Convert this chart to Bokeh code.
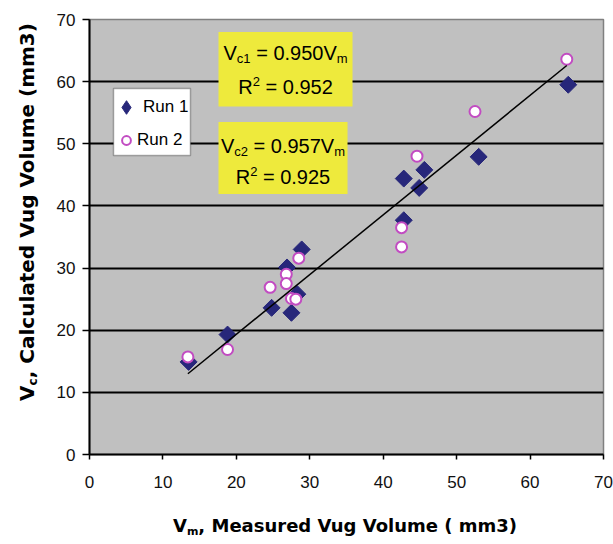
import math
from bokeh.plotting import figure
from bokeh.layouts import column, row
from bokeh.models import (Legend, LegendItem, BoxAnnotation, Label, FixedTicker, Div)
from bokeh.embed import file_html
from bokeh.resources import INLINE

# ---------------- data ----------------
run1_x = [65.2, 53.0, 45.6, 42.8, 44.9, 42.8, 28.9, 26.9, 28.3, 24.8, 27.5, 18.8, 13.5]
run1_y = [59.5, 47.9, 45.8, 44.4, 42.9, 37.7, 33.0, 30.1, 25.8, 23.6, 22.8, 19.3, 14.9]
run2_x = [65.0, 52.5, 44.6, 42.5, 42.5, 28.5, 26.8, 24.6, 26.8, 27.5, 28.1, 18.8, 13.4]
run2_y = [63.6, 55.2, 48.0, 36.5, 33.4, 31.6, 29.0, 26.9, 27.5, 25.1, 25.0, 16.9, 15.7]
trend_x = [13.4, 65.0]
trend_y = [13.0, 62.6]
series_names = ["Run 1", "Run 2"]
eq1_coef, eq1_r2 = "0.950", "0.952"
eq2_coef, eq2_r2 = "0.957", "0.925"
axis_ticks = [0, 10, 20, 30, 40, 50, 60, 70]

# ---------------- font metrics for composing rich text ----------------
ARIAL = {'V': .667, 'c': .5, '1': .556, '2': .556, ' ': .278, '=': .584, '0': .556,
         '.': .278, '9': .556, '5': .556, '7': .556, 'm': .833, 'R': .722}


def tw(text, size):
    return sum(ARIAL.get(ch, 0.6) for ch in text) * size


YDIV_W = 44
P_W, P_H = 613 - YDIV_W, 500
XDIV_H = 544 - P_H

p = figure(width=P_W, height=P_H, x_range=(0, 70), y_range=(0, 70),
           output_backend="svg", toolbar_location=None,
           min_border_left=89 - YDIV_W, min_border_right=10,
           min_border_top=19, min_border_bottom=P_H - 454)

p.background_fill_color = "#c0c0c0"
p.border_fill_color = "white"
p.outline_line_color = "#808080"
p.outline_line_width = 1.5

for ax in (p.xaxis[0], p.yaxis[0]):
    ax.ticker = FixedTicker(ticks=axis_ticks)
    ax.axis_line_color = "black"
    ax.axis_line_width = 2
    ax.major_tick_line_color = "black"
    ax.major_tick_line_width = 1.5
    ax.major_tick_in = 0
    ax.minor_tick_line_color = None
    ax.major_label_text_font = "Liberation Sans"
    ax.major_label_text_font_size = "17px"
    ax.major_label_text_color = "#111111"
p.yaxis.major_tick_out = 7
p.yaxis.major_label_standoff = 7
p.xaxis.major_tick_out = 5
p.xaxis.major_label_standoff = 16

p.xgrid.visible = False
p.ygrid.ticker = FixedTicker(ticks=axis_ticks[1:-1])
p.ygrid.grid_line_color = "black"
p.ygrid.grid_line_width = 2

# ---------------- glyphs ----------------
NAVY, PINK = "#27277a", "#c24cc2"
# diamond-shaped twin of Run 1 (hidden beneath the rotated squares) used for the legend
r1_leg = p.scatter(run1_x, run1_y, marker="diamond", size=13,
                   fill_color=NAVY, line_color=NAVY)
r1 = p.scatter(run1_x, run1_y, marker="square", angle=math.pi / 4, size=12,
               fill_color=NAVY, line_color=NAVY, line_width=1)
r2 = p.scatter(run2_x, run2_y, marker="circle", size=11,
               fill_color="white", line_color=PINK, line_width=2)
p.line(trend_x, trend_y, line_color="black", line_width=1.5)

# ---------------- equation boxes ----------------
YEL = "#eeea3c"
p.add_layout(BoxAnnotation(left=17.57, right=35.82, bottom=56.0, top=68.0,
                           fill_color=YEL, fill_alpha=1, line_color=None))
p.add_layout(BoxAnnotation(left=17.57, right=35.14, bottom=41.9, top=53.5,
                           fill_color=YEL, fill_alpha=1, line_color=None))

F, FS = 20, 13


def rich_line(cx, cy, runs):
    total = sum(tw(t, s) for t, s, dy in runs)
    off = -total / 2
    for t, s, dy in runs:
        stripped = t.lstrip(" ")
        off += tw(t[:len(t) - len(stripped)], s)
        p.add_layout(Label(x=cx, y=cy, x_offset=off, y_offset=dy, text=stripped,
                           text_font="Liberation Sans", text_font_size=f"{s}px",
                           text_align="left", text_baseline="middle",
                           text_color="black"))
        off += tw(stripped, s)


rich_line(26.7, 64.6, [("V", F, 0), ("c1", FS, -5), (f" = {eq1_coef}V", F, 0), ("m", FS, -5)])
rich_line(26.7, 59.1, [("R", F, 0), ("2", FS, 6), (f" = {eq1_r2}", F, 0)])
rich_line(26.35, 49.6, [("V", F, 0), ("c2", FS, -5), (f" = {eq2_coef}V", F, 0), ("m", FS, -5)])
rich_line(26.35, 44.6, [("R", F, 0), ("2", FS, 6), (f" = {eq2_r2}", F, 0)])

# ---------------- legend ----------------
p.add_layout(BoxAnnotation(left=3.27, right=13.75, bottom=48.1, top=58.9,
                           fill_color="white", fill_alpha=1,
                           line_color="black", line_width=1.5))
common = dict(margin=0, padding=0, label_text_font="Liberation Sans",
              label_text_font_size="17px", label_text_color="black",
              border_line_color=None, background_fill_alpha=0)
leg1 = Legend(items=[LegendItem(label=series_names[0], renderers=[r1_leg])],
              location=(20, 330), glyph_width=34, glyph_height=34,
              label_height=20, label_standoff=0, **common)
leg2 = Legend(items=[LegendItem(label=series_names[1], renderers=[r2])],
              location=(26, 303), glyph_width=22, glyph_height=22,
              label_height=20, label_standoff=0, **common)
p.add_layout(leg1)
p.add_layout(leg2)

# ---------------- axis titles (HTML, with subscripts) ----------------
TSTYLE = ("position:absolute;white-space:nowrap;font-family:'DejaVu Sans';"
          "font-weight:bold;color:black;line-height:1;")
xtitle = Div(
    text=(f'<div style="{TSTYLE}left:345px;top:27px;font-size:18px;'
          'transform:translate(-50%,-50%);">'
          'V<sub style="font-size:11px;vertical-align:-3px;">m</sub>'
          ', Measured Vug Volume ( mm3)</div>'),
    width=613, height=XDIV_H, margin=0)
ytitle = Div(
    text=(f'<div style="{TSTYLE}left:28px;top:212px;font-size:20px;'
          'transform:translate(-50%,-50%) rotate(-90deg);">'
          'V<sub style="font-size:12px;vertical-align:-3px;">c</sub>'
          ', Calculated Vug Volume (mm3)</div>'),
    width=YDIV_W, height=P_H, margin=0)

layout = column(row(ytitle, p, spacing=0), xtitle, spacing=0)

open("out.html", "w").write(file_html(layout, INLINE))
